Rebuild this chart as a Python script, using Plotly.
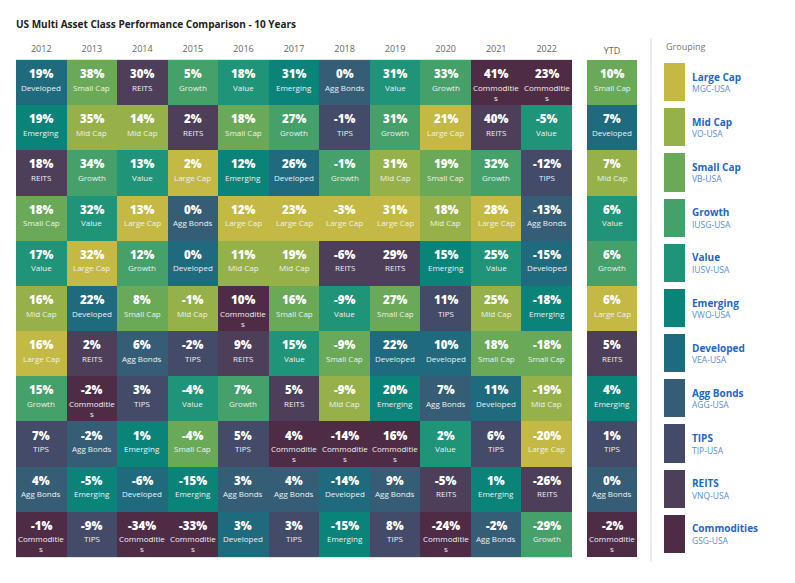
"""US multi asset class performance quilt (10 years + YTD) rebuilt with plotly."""
import plotly.graph_objects as go

W, H = 795, 583

years = ["2012", "2013", "2014", "2015", "2016", "2017", "2018", "2019", "2020", "2021", "2022"]

groups = ["Large Cap", "Mid Cap", "Small Cap", "Growth", "Value", "Emerging",
          "Developed", "Agg Bonds", "TIPS", "REITS", "Commodities"]
tickers = ["MGC-USA", "VO-USA", "VB-USA", "IUSG-USA", "IUSV-USA", "VWO-USA",
           "VEA-USA", "AGG-USA", "TIP-USA", "VNQ-USA", "GSG-USA"]
group_colors = ["#c4b944", "#97b14a", "#6aa958", "#45a06a", "#209478", "#0a8379",
                "#1f6a7c", "#355d76", "#434b68", "#4d3e5a", "#4e2c46"]

# ranked best -> worst, per year
rank_2012 = ["Developed", "Emerging", "REITS", "Small Cap", "Value", "Mid Cap",
             "Large Cap", "Growth", "TIPS", "Agg Bonds", "Commodities"]
ret_2012 = [19, 19, 18, 18, 17, 16, 16, 15, 7, 4, -1]
rank_2013 = ["Small Cap", "Mid Cap", "Growth", "Value", "Large Cap", "Developed",
             "REITS", "Commodities", "Agg Bonds", "Emerging", "TIPS"]
ret_2013 = [38, 35, 34, 32, 32, 22, 2, -2, -2, -5, -9]
rank_2014 = ["REITS", "Mid Cap", "Value", "Large Cap", "Growth", "Small Cap",
             "Agg Bonds", "TIPS", "Emerging", "Developed", "Commodities"]
ret_2014 = [30, 14, 13, 13, 12, 8, 6, 3, 1, -6, -34]
rank_2015 = ["Growth", "REITS", "Large Cap", "Agg Bonds", "Developed", "Mid Cap",
             "TIPS", "Value", "Small Cap", "Emerging", "Commodities"]
ret_2015 = [5, 2, 2, 0, 0, -1, -2, -4, -4, -15, -33]
rank_2016 = ["Value", "Small Cap", "Emerging", "Large Cap", "Mid Cap", "Commodities",
             "REITS", "Growth", "TIPS", "Agg Bonds", "Developed"]
ret_2016 = [18, 18, 12, 12, 11, 10, 9, 7, 5, 3, 3]
rank_2017 = ["Emerging", "Growth", "Developed", "Large Cap", "Mid Cap", "Small Cap",
             "Value", "REITS", "Commodities", "Agg Bonds", "TIPS"]
ret_2017 = [31, 27, 26, 23, 19, 16, 15, 5, 4, 4, 3]
rank_2018 = ["Agg Bonds", "TIPS", "Growth", "Large Cap", "REITS", "Value",
             "Small Cap", "Mid Cap", "Commodities", "Developed", "Emerging"]
ret_2018 = [0, -1, -1, -3, -6, -9, -9, -9, -14, -14, -15]
rank_2019 = ["Value", "Growth", "Mid Cap", "Large Cap", "REITS", "Small Cap",
             "Developed", "Emerging", "Commodities", "Agg Bonds", "TIPS"]
ret_2019 = [31, 31, 31, 31, 29, 27, 22, 20, 16, 9, 8]
rank_2020 = ["Growth", "Large Cap", "Small Cap", "Mid Cap", "Emerging", "TIPS",
             "Developed", "Agg Bonds", "Value", "REITS", "Commodities"]
ret_2020 = [33, 21, 19, 18, 15, 11, 10, 7, 2, -5, -24]
rank_2021 = ["Commodities", "REITS", "Growth", "Large Cap", "Value", "Mid Cap",
             "Small Cap", "Developed", "TIPS", "Emerging", "Agg Bonds"]
ret_2021 = [41, 40, 32, 28, 25, 25, 18, 11, 6, 1, -2]
rank_2022 = ["Commodities", "Value", "TIPS", "Agg Bonds", "Developed", "Emerging",
             "Small Cap", "Mid Cap", "Large Cap", "REITS", "Growth"]
ret_2022 = [23, -5, -12, -13, -15, -18, -18, -19, -20, -26, -29]
rank_ytd = ["Small Cap", "Developed", "Mid Cap", "Value", "Growth", "Large Cap",
            "REITS", "Emerging", "TIPS", "Agg Bonds", "Commodities"]
ret_ytd = [10, 7, 7, 6, 6, 6, 5, 4, 1, 0, -2]

ranks = [rank_2012, rank_2013, rank_2014, rank_2015, rank_2016, rank_2017,
         rank_2018, rank_2019, rank_2020, rank_2021, rank_2022]
rets = [ret_2012, ret_2013, ret_2014, ret_2015, ret_2016, ret_2017,
        ret_2018, ret_2019, ret_2020, ret_2021, ret_2022]

n = len(groups)
rows = list(range(n))

# discrete colorscale: one flat band per group index
cscale = []
for i, c in enumerate(group_colors):
    cscale += [[i / n, c], [(i + 1) / n, c]]


def px_x(p):
    return p / W


def px_y(p):
    return 1 - p / H


def wrap(label):
    # the original cell is too narrow for "Commodities" and breaks it
    return "Commoditie<br>s" if label == "Commodities" else label


FONT = "Open Sans"
PCT = dict(family=FONT, size=11.5, color="white", weight=800)
LBL = dict(family=FONT, size=8, color="#eef2f2")

fig = go.Figure()

# main grid: z[row][col] = group index
z_main = [[groups.index(ranks[c][r]) for c in range(len(years))] for r in rows]
fig.add_trace(go.Heatmap(
    x=years, y=rows, z=z_main, colorscale=cscale, zmin=-0.5, zmax=n - 0.5,
    showscale=False, hoverinfo="skip", xaxis="x", yaxis="y",
))

z_ytd = [[groups.index(rank_ytd[r])] for r in rows]
fig.add_trace(go.Heatmap(
    x=["YTD"], y=rows, z=z_ytd, colorscale=cscale, zmin=-0.5, zmax=n - 0.5,
    showscale=False, hoverinfo="skip", xaxis="x2", yaxis="y",
))

# legend swatches
fig.add_trace(go.Heatmap(
    x=["Grouping"], y=rows, z=[[i] for i in rows], colorscale=cscale,
    zmin=-0.5, zmax=n - 0.5, ygap=7, showscale=False, hoverinfo="skip",
    xaxis="x3", yaxis="y",
))

ann = []


def cell_text(xref, xi, r, pct, label):
    # on category axes annotation x is the category's serial index
    ann.append(dict(xref=xref, yref="y", x=xi, y=r, text=f"{pct}%", showarrow=False,
                    yanchor="middle", yshift=9, font=PCT))
    ann.append(dict(xref=xref, yref="y", x=xi, y=r, text=wrap(label), showarrow=False,
                    yanchor="top", yshift=3, font=LBL))


for c in range(len(years)):
    for r in rows:
        cell_text("x", c, r, rets[c][r], ranks[c][r])
for r in rows:
    cell_text("x2", 0, r, ret_ytd[r], rank_ytd[r])

for r in rows:
    ann.append(dict(xref="paper", yref="y", x=px_x(690), y=r, xanchor="left",
                    text=f"<b>{groups[r]}</b>", showarrow=False, yshift=6,
                    font=dict(family=FONT, size=10, color="#1f66c6")))
    ann.append(dict(xref="paper", yref="y", x=px_x(690), y=r, xanchor="left",
                    text=tickers[r], showarrow=False, yshift=-6,
                    font=dict(family=FONT, size=8.5, color="#5a8ed6")))

ann.append(dict(xref="paper", yref="paper", x=px_x(664), y=px_y(47), xanchor="left",
                yanchor="middle", text="Grouping", showarrow=False,
                font=dict(family=FONT, size=9, color="#777")))

axis_common = dict(type="category", side="top", showgrid=False, zeroline=False, ticks="",
                   ticklabelstandoff=3, tickfont=dict(family=FONT, size=9, color="#666"),
                   fixedrange=True)

fig.update_layout(
    width=W, height=H,
    margin=dict(l=0, r=0, t=0, b=0),
    paper_bgcolor="white", plot_bgcolor="white",
    title=dict(text="<b>US Multi Asset Class Performance Comparison - 10 Years</b>",
               x=px_x(16), y=px_y(24), xanchor="left", yanchor="middle",
               font=dict(family=FONT, size=10, color="#222")),
    xaxis=dict(domain=[px_x(16), px_x(572)], anchor="y", showline=True, mirror=True,
               linecolor="#e2e2e6", linewidth=1, **axis_common),
    xaxis2=dict(domain=[px_x(587), px_x(637)], anchor="y", **axis_common),
    xaxis3=dict(domain=[px_x(664), px_x(685)], anchor="y", showticklabels=False,
                showgrid=False, zeroline=False, fixedrange=True),
    yaxis=dict(domain=[px_y(557), px_y(60)], range=[n - 0.5, -0.5], visible=False,
               fixedrange=True),
    shapes=[dict(type="line", xref="paper", yref="paper", x0=px_x(651), x1=px_x(651),
                 y0=px_y(38), y1=px_y(562), line=dict(color="#e4e4e4", width=1.5))],
    annotations=ann,
)

# the page body has a default 8px margin; drop it so the figure sits at the top-left
fig.write_html("out.html", config={"displayModeBar": False},
               post_script="document.body.style.margin='0';")
